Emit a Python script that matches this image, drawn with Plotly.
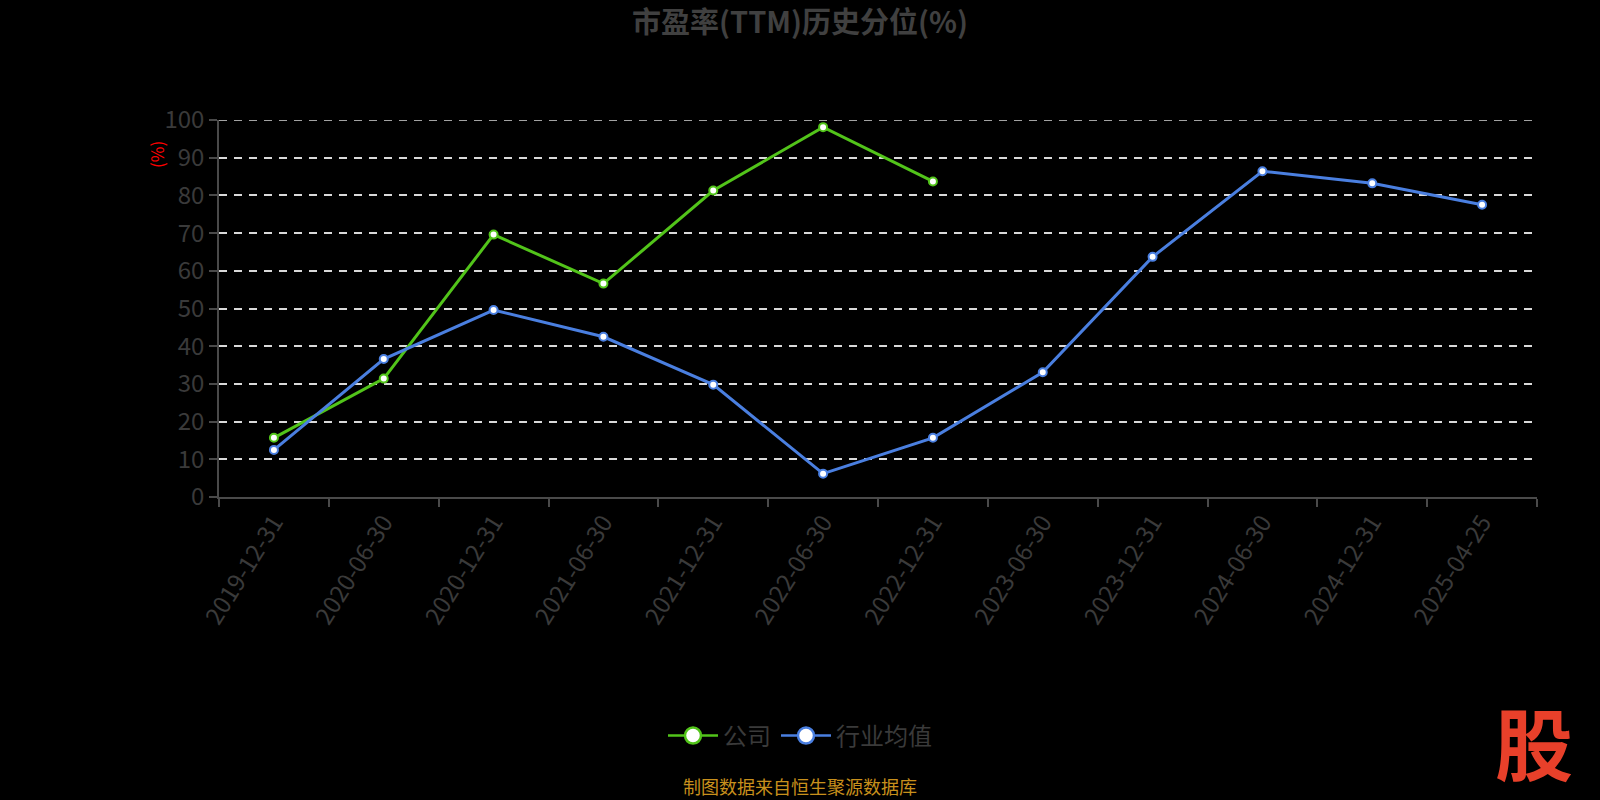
import plotly.graph_objects as go

dates = ["2019-12-31", "2020-06-30", "2020-12-31", "2021-06-30", "2021-12-31", "2022-06-30",
         "2022-12-31", "2023-06-30", "2023-12-31", "2024-06-30", "2024-12-31", "2025-04-25"]
company = [15.7, 31.4, 69.6, 56.6, 81.3, 98.1, 83.7]
industry = [12.5, 36.6, 49.6, 42.5, 29.8, 6.2, 15.7, 33.1, 63.7, 86.4, 83.2, 77.5]
y_ticks = list(range(0, 101, 10))

FONT = "Noto Sans CJK SC, Microsoft YaHei, sans-serif"
GREEN = "#52c41a"
BLUE = "#4a7fe0"
AXIS = "#4a4a4a"
TEXT = "#3a3a3a"
GRID = "#d9d9d9"

# plot area in page pixels
L, R, T, B = 219, 1537, 120, 497
PW, PH = R - L, B - T


def px(x):
    return (x - L) / PW


def py(y):
    return (B - y) / PH


fig = go.Figure()
for name, vals, color in [("公司", company, GREEN), ("行业均值", industry, BLUE)]:
    fig.add_trace(go.Scatter(
        x=dates[:len(vals)], y=vals, name=name, mode="lines+markers", showlegend=False,
        line=dict(color=color, width=3),
        marker=dict(size=8, color="white", line=dict(color=color, width=2)),
    ))
    # legend entry only (no data)
    fig.add_trace(go.Scatter(
        x=[None], y=[None], name=name, mode="lines+markers",
        line=dict(color=color, width=2.5),
        marker=dict(size=16, color="white", line=dict(color=color, width=2.5)),
    ))

fig.update_layout(
    width=1600, height=800,
    paper_bgcolor="black", plot_bgcolor="black",
    font=dict(family=FONT, color=TEXT),
    margin=dict(l=L, r=1600 - R, t=T, b=800 - B),
    title=dict(text="<b>市盈率(TTM)历史分位(%)</b>", x=0.5, xanchor="center",
               y=1 - 23 / 800, yanchor="middle", font=dict(size=29, color="#404040")),
    showlegend=True,
    legend=dict(orientation="h", x=px(800), xanchor="center", y=py(736), yanchor="middle",
                font=dict(size=24, color=TEXT), bgcolor="rgba(0,0,0,0)",
                itemwidth=50, tracegroupgap=10),
)

fig.update_xaxes(
    type="category", categoryorder="array", categoryarray=dates,
    range=[-0.5, len(dates) - 0.5],
    showgrid=False, showline=True, linecolor=AXIS, linewidth=1.5,
    ticks="outside", tickson="boundaries", ticklen=8, tickcolor=AXIS, tickwidth=1.5,
    tickangle=-58, tickfont=dict(size=24, color=TEXT), zeroline=False,
)
fig.update_yaxes(
    range=[0, 100], tickvals=y_ticks,
    showgrid=True, gridcolor=GRID, griddash="8px,7px", gridwidth=1.5,
    showline=True, linecolor=AXIS, linewidth=1.5,
    ticks="outside", ticklen=8, tickcolor=AXIS, tickwidth=1.5,
    tickfont=dict(size=24, color=TEXT), zeroline=False,
)

# top gridline at 100 (plotly drops the one on the plot edge)
fig.add_shape(type="line", xref="paper", yref="y", x0=0, x1=1, y0=100, y1=100,
              line=dict(color=GRID, width=1.5, dash="8px,7px"), layer="below")

fig.add_annotation(text="(%)", xref="paper", yref="paper", x=px(156), y=py(155),
                   xanchor="center", yanchor="middle",
                   showarrow=False, textangle=-90, font=dict(size=17, color="red"))
fig.add_annotation(text="制图数据来自恒生聚源数据库", xref="paper", yref="paper",
                   x=px(800), y=py(786), xanchor="center", yanchor="middle",
                   showarrow=False, font=dict(size=18, color="#c8901c"))
fig.add_annotation(text="<b>股</b>", xref="paper", yref="paper",
                   x=px(1534), y=py(741), xanchor="center", yanchor="middle",
                   showarrow=False, font=dict(size=78, color="#e8402a"))

fig.write_html("out.html", config={"displayModeBar": False},
               post_script="document.body.style.margin='0';")
